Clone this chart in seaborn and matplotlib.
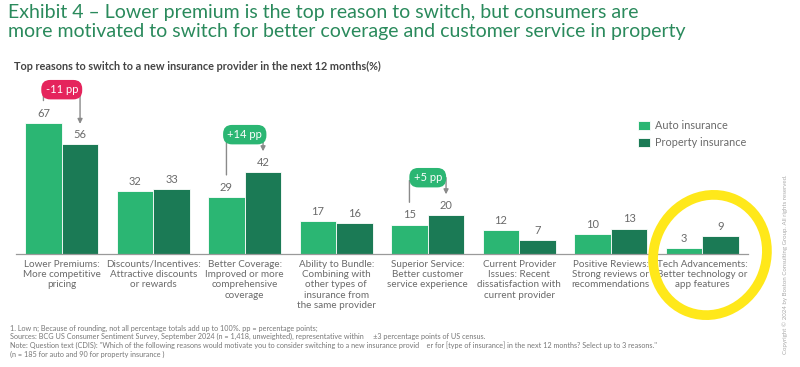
import matplotlib
matplotlib.use('Agg')
import matplotlib.pyplot as plt
import matplotlib.transforms as mtransforms
from matplotlib.patches import Ellipse
import pandas as pd
import seaborn as sns

# данные
categories = [
    'Lower Premiums:\nMore competitive\npricing',
    'Discounts/Incentives:\nAttractive discounts\nor rewards',
    'Better Coverage:\nImproved or more\ncomprehensive\ncoverage',
    'Ability to Bundle:\nCombining with\nother types of\ninsurance from\nthe same provider',
    'Superior Service:\nBetter customer\nservice experience',
    'Current Provider\nIssues: Recent\ndissatisfaction with\ncurrent provider',
    'Positive Reviews:\nStrong reviews or\nrecommendations',
    'Tech Advancements:\nBetter technology or\napp features',
]
series_names = ['Auto insurance', 'Property insurance']
auto_values = [67, 32, 29, 17, 15, 12, 10, 3]
property_values = [56, 33, 42, 16, 20, 7, 13, 9]

# разница в п.п. (индекс категории, подпись)
deltas = [(0, '-11 pp'), (2, '+14 pp'), (4, '+5 pp')]

AUTO_C = '#2bb673'
PROP_C = '#1b7a55'
TITLE_C = '#2a8a5c'
GRAY = '#6a6a6a'
FONT = ['Lato', 'DejaVu Sans']

df = pd.DataFrame({
    'category': categories * 2,
    'type': [series_names[0]] * len(categories) + [series_names[1]] * len(categories),
    'value': auto_values + property_values,
})

sns.set_style('white')
plt.rcParams['font.family'] = FONT

fig = plt.figure(figsize=(8, 3.67), dpi=100)
ax = fig.add_axes([0.02, 0.308, 0.915, 0.469])

sns.barplot(
    data=df, x='category', y='value', hue='type',
    palette=[AUTO_C, PROP_C], saturation=1, width=0.8, ax=ax,
    edgecolor='white', linewidth=0.6, legend=True,
)
ax.set_xlim(-0.5, len(categories) - 0.5)
ax.set_ylim(0, 88)

# подписи значений
for cont in ax.containers:
    ax.bar_label(cont, padding=3, fontsize=8, color=GRAY)

# оформление осей
for side in ['left', 'right', 'top']:
    ax.spines[side].set_visible(False)
ax.spines['bottom'].set_color('#9a9a9a')
ax.spines['bottom'].set_linewidth(0.9)
ax.set_yticks([])
ax.set_xlabel('')
ax.set_ylabel('')
ax.tick_params(axis='x', length=0, pad=4, labelsize=7.1, labelcolor=GRAY)
for lbl in ax.get_xticklabels():
    lbl.set_linespacing(1.2)
    lbl.set_verticalalignment('top')

# легенда
handles, labels = ax.get_legend_handles_labels()
ax.legend(
    handles, labels, loc='upper left',
    bbox_to_anchor=(0.785, 0.70), bbox_transform=fig.transFigure,
    frameon=False, fontsize=7.8, labelcolor=GRAY,
    handlelength=1.1, handleheight=0.9, handletextpad=0.5, labelspacing=0.6,
)

# пузыри с разницей в п.п.
for idx, txt in deltas:
    a, p = auto_values[idx], property_values[idx]
    y_b = max(a, p) + 17 if idx == 0 else max(a, p) + 19
    color = '#e5245c' if p < a else AUTO_C
    # левая линия от пузыря к подписи столбца auto
    ax.annotate('', xy=(idx - 0.2, a + 10), xytext=(idx - 0.2, y_b),
                arrowprops=dict(arrowstyle='-', color='#8a8a8a', lw=1),
                annotation_clip=False)
    # правая стрелка к столбцу property
    ax.annotate('', xy=(idx + 0.2, p + 10.5), xytext=(idx + 0.2, y_b),
                arrowprops=dict(arrowstyle='-|>', color='#8a8a8a', lw=1,
                                mutation_scale=7, shrinkA=0, shrinkB=0),
                annotation_clip=False)
    ax.text(idx, y_b, txt, ha='center', va='center', color='white', fontsize=8,
            zorder=5, clip_on=False,
            bbox=dict(boxstyle='round,pad=0.38,rounding_size=0.8', fc=color, ec='none'))

# заголовок и подзаголовок
fig.text(0.01, 0.99, 'Exhibit 4 – Lower premium is the top reason to switch, but consumers are\n'
         'more motivated to switch for better coverage and customer service in property',
         ha='left', va='top', fontsize=14, color=TITLE_C, linespacing=1.15)
fig.text(0.018, 0.82, 'Top reasons to switch to a new insurance provider in the next 12 months(%)',
         ha='left', va='center', fontsize=7.8, fontweight='bold', color='#444444')

# сноски
notes = (
    '1. Low n; Because of rounding, not all percentage totals add up to 100%. pp = percentage points;\n'
    'Sources: BCG US Consumer Sentiment Survey, September 2024 (n = 1,418, unweighted), representative within     ±3 percentage points of US census.\n'
    'Note: Question text (CDIS): "Which of the following reasons would motivate you to consider switching to a new insurance provid    er for [type of insurance] in the next 12 months? Select up to 3 reasons."\n'
    '(n = 185 for auto and 90 for property insurance )'
)
fig.text(0.012, 0.115, notes, ha='left', va='top', fontsize=5.2, color='#777777', linespacing=1.2)

# копирайт
fig.text(0.981, 0.525, 'Copyright © 2024 by Boston Consulting Group. All rights reserved.',
         rotation=90, ha='center', va='top', fontsize=4.4, color='#aaaaaa')

# жёлтое выделение последней группы
fig.add_artist(Ellipse((710, 367 - 255), 112, 122, angle=-25, fill=False,
                       ec='#ffe81a', lw=7, transform=mtransforms.IdentityTransform(),
                       zorder=10))

fig.savefig('out.png', dpi=100)
